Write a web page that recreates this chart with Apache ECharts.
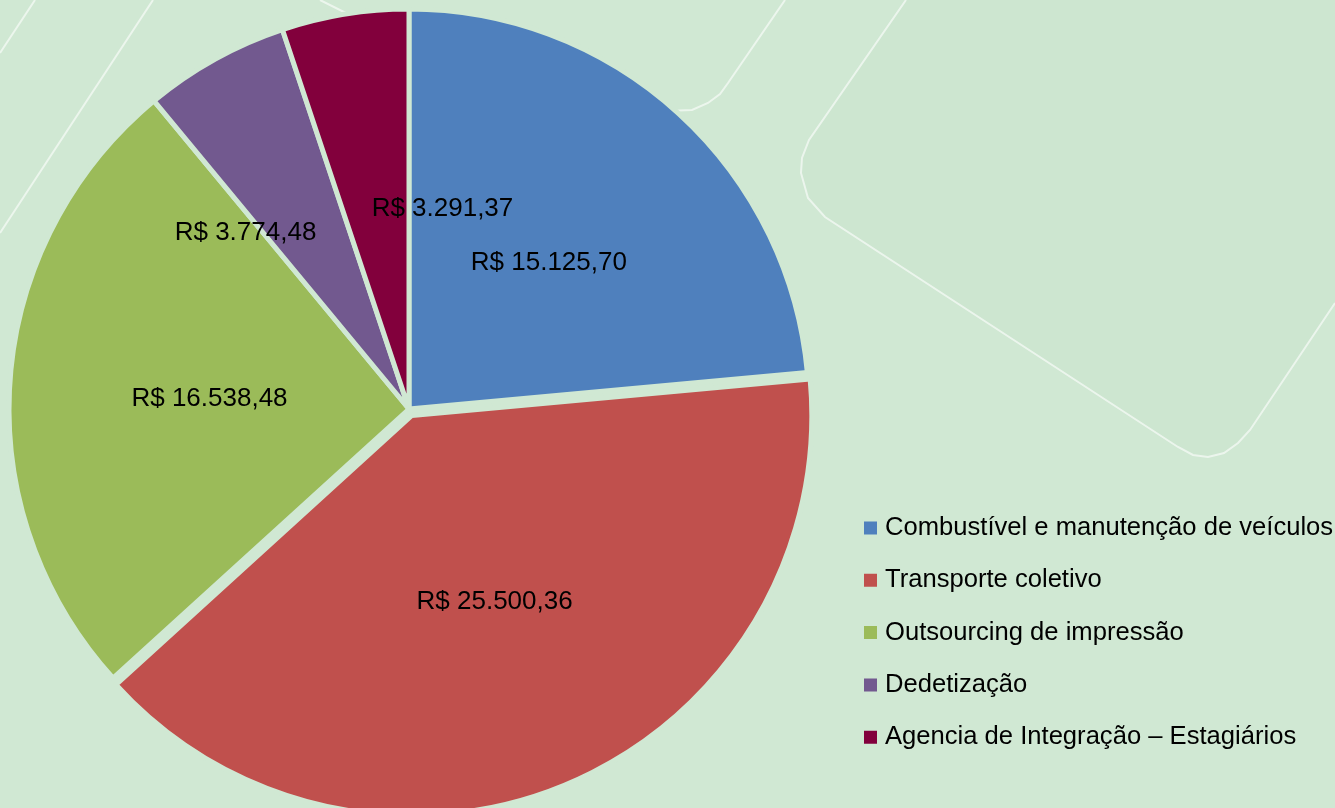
<!DOCTYPE html>
<html>
<head>
<meta charset="utf-8">
<script src="https://cdn.jsdelivr.net/npm/echarts@6/dist/echarts.min.js"></script>
<style>
html,body{margin:0;padding:0;background:#d2e9d5;}
#chart{width:1335px;height:808px;}
</style>
</head>
<body>
<div id="chart"></div>
<script>
const categories = [
  'Combustível e manutenção de veículos',
  'Transporte coletivo',
  'Outsourcing de impressão',
  'Dedetização',
  'Agencia de Integração – Estagiários'
];
const values = [15125.70, 25500.36, 16538.48, 3774.48, 3291.37];
const colors = ['#4f80bd', '#c0504d', '#9bbb59', '#72598f', '#82003c'];

function fmtBRL(v) {
  const parts = v.toFixed(2).split('.');
  const intPart = parts[0].replace(/\B(?=(\d{3})+(?!\d))/g, '.');
  return 'R$ ' + intPart + ',' + parts[1];
}

const bg = '#d0e8d3';
const lineStyle = { fill: null, stroke: 'rgba(255,255,255,0.6)', lineWidth: 2 };
const shapePts = [[906,0],[809,140],[802,158],[801,173],[808,198],[825,217],[1178,447],[1193,455],[1208,457],[1224,453],[1238,443],[1250,430],[1335,303]];
const chart = echarts.init(document.getElementById('chart'));
chart.setOption({
  backgroundColor: bg,
  animation: false,
  color: colors,
  graphic: [
    { type: 'polygon', silent: true, z: -2,
      shape: { points: shapePts.concat([[1335,0]]) },
      style: { fill: '#cde6d0', stroke: null } },
    { type: 'polyline', silent: true, z: -1,
      shape: { points: shapePts },
      style: lineStyle },
    { type: 'polyline', silent: true, z: -1,
      shape: { points: [[640,112],[692,110],[708,103],[720,94],[728,83],[785,0]] },
      style: lineStyle },
    { type: 'line', silent: true, z: -1, shape: { x1: 0, y1: 53, x2: 35, y2: 0 }, style: lineStyle },
    { type: 'line', silent: true, z: -1, shape: { x1: 0, y1: 233, x2: 153, y2: 0 }, style: lineStyle },
    { type: 'line', silent: true, z: -1, shape: { x1: 320, y1: 0, x2: 360, y2: 20 }, style: lineStyle }
  ],
  legend: {
    orient: 'vertical',
    left: 862,
    top: 514,
    padding: 0,
    itemWidth: 15,
    itemHeight: 15,
    itemGap: 24.3,
    icon: 'rect',
    selectedMode: false,
    data: categories,
    textStyle: {
      fontFamily: 'Liberation Sans, Arial, sans-serif',
      fontSize: 25.6,
      lineHeight: 28,
      color: '#000',
      padding: [0, 0, 0, 2]
    }
  },
  series: [{
    type: 'pie',
    center: [409, 409],
    radius: 400,
    startAngle: 90,
    clockwise: true,
    avoidLabelOverlap: false,
    selectedMode: 'multiple',
    selectedOffset: 7,
    itemStyle: { borderColor: bg, borderWidth: 5 },
    label: {
      show: true,
      position: 'inside',
      formatter: p => fmtBRL(p.value),
      fontFamily: 'Liberation Sans, Arial, sans-serif',
      fontSize: 26,
      color: '#000'
    },
    labelLine: { show: false },
    emphasis: { disabled: true },
    select: { itemStyle: { color: colors[1] } },
    labelLayout: function (p) {
      if (p.dataIndex === 3) return { dx: -65, dy: 1 };
      if (p.dataIndex === 4) return { dx: 66, dy: 0 };
      if (p.dataIndex === 1) return { dx: 1, dy: 1 };
      return { dx: 3, dy: 4 };
    },
    data: categories.map((c, i) => ({ name: c, value: values[i], selected: i === 1 }))
  }]
});
</script>
</body>
</html>
